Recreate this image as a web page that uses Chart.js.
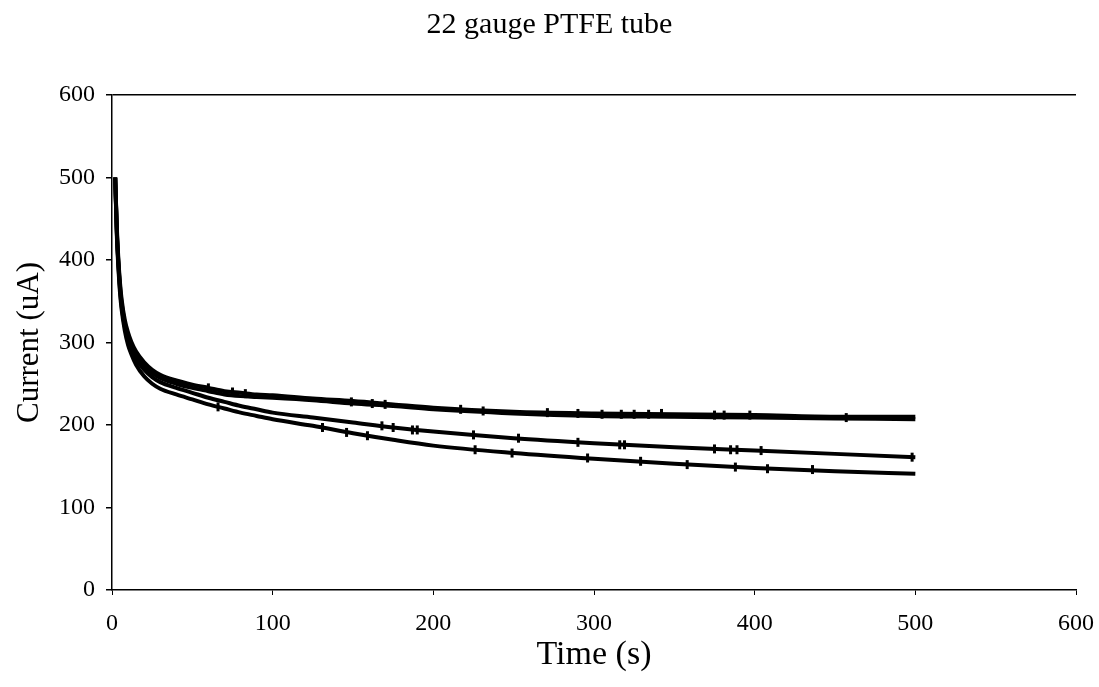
<!DOCTYPE html>
<html>
<head>
<meta charset="utf-8">
<script src="https://cdn.jsdelivr.net/npm/chart.js@4.4.1/dist/chart.umd.min.js"></script>
<style>
  html, body { margin: 0; padding: 0; background: #fff; }
  #wrap { width: 1099px; height: 687px; }
</style>
</head>
<body>
<div id="wrap"><canvas id="currentChart" width="1099" height="687"></canvas></div>
<script>
/* ================================
   Data
================================ */
const times = [2, 3, 4, 5, 6, 8, 10, 12, 15, 20, 25, 30, 40, 50, 60, 70, 80, 90, 100, 125, 150, 175, 200, 250, 300, 350, 400, 450, 500];

const run1 = [500, 440, 400, 372, 352, 327, 312, 301, 289, 276, 267, 261, 254, 249, 245, 241, 239, 237, 236, 232, 229, 225, 221, 216, 214, 213, 212, 210, 210];
const run2 = [500, 436, 396, 368, 348, 323, 308, 297, 285, 272, 263, 257, 250, 245, 241, 237, 235, 234, 233, 230, 226, 223, 219, 214, 211, 210, 209, 208, 207];
const run3 = [500, 434, 394, 364, 344, 319, 303, 292, 280, 267, 258, 252, 245, 239, 233, 228, 223, 219, 215, 209, 203, 197, 192, 184, 178, 173, 169, 165, 161];
const run4 = [500, 430, 390, 360, 340, 314, 297, 286, 273, 259, 250, 244, 237, 231, 225, 220, 215, 211, 207, 199, 190, 182, 175, 166, 159, 153, 148, 144, 141];

// small noise spikes seen on the traces: [time, current]
const spikesTop = [[60, 245], [75, 240], [83, 238], [149, 228], [162, 226], [170, 225], [217, 219], [231, 217], [271, 215], [290, 214], [305, 213], [317, 213], [325, 213], [334, 213], [342, 214], [375, 212], [381, 212], [397, 212], [457, 209]];
const spikesMid = [[168, 199], [175, 197], [187, 194], [190, 194], [225, 188], [253, 184], [290, 179], [316, 176], [319, 176], [375, 171], [385, 170], [389, 170], [404, 169], [498, 161]];
const spikesLow = [[66, 222], [131, 197], [146, 191], [159, 187], [226, 170], [249, 166], [296, 160], [329, 156], [358, 152], [388, 149], [408, 147], [436, 146]];

const xTicks = [0, 100, 200, 300, 400, 500, 600];
const yTicks = [0, 100, 200, 300, 400, 500, 600];

/* ================================
   Helpers
================================ */
const SERIF = "'Liberation Serif', 'Times New Roman', serif";

function toPoints(values) {
  return times.map((t, i) => ({ x: t, y: values[i] }));
}

function lineSet(label, values) {
  return {
    label,
    data: toPoints(values),
    borderColor: "#000",
    borderWidth: 4,
    pointRadius: 0,
    fill: false,
    cubicInterpolationMode: "monotone"
  };
}

function spikeSet(label, pairs) {
  return {
    label,
    data: pairs.map(p => ({ x: p[0], y: p[1] })),
    showLine: false,
    pointStyle: "line",
    rotation: 90,
    pointRadius: 4.5,
    pointBorderWidth: 3,
    pointBorderColor: "#000",
    pointBackgroundColor: "#000"
  };
}

/* ================================
   Render Chart
================================ */
const ctx = document.getElementById("currentChart");

new Chart(ctx, {
  type: "line",
  data: {
    datasets: [
      lineSet("Run 1", run1),
      lineSet("Run 2", run2),
      lineSet("Run 3", run3),
      lineSet("Run 4", run4),
      spikeSet("Noise top", spikesTop),
      spikeSet("Noise mid", spikesMid),
      spikeSet("Noise low", spikesLow)
    ]
  },
  options: {
    responsive: false,
    animation: false,
    layout: { padding: 0 },
    plugins: {
      legend: { display: false },
      tooltip: { enabled: false },
      title: {
        display: true,
        text: "22 gauge PTFE tube",
        color: "#000",
        font: { family: SERIF, size: 30, weight: "normal" },
        padding: { top: 7, bottom: 52 }
      }
    },
    scales: {
      x: {
        type: "linear",
        min: 0,
        max: 600,
        afterBuildTicks: scale => {
          scale.ticks = xTicks.map(v => ({ value: v }));
        },
        afterFit: scale => {
          scale.height = 97;
          // plot ends at x = 1076, the "600" label runs past it
          scale.paddingRight = 23;
        },
        border: { display: true, color: "#000", width: 1.5 },
        grid: {
          color: "transparent",
          tickColor: "#000",
          tickLength: 5,
          drawOnChartArea: false
        },
        ticks: {
          color: "#000",
          padding: 14,
          maxRotation: 0,
          font: { family: SERIF, size: 24 }
        },
        title: {
          display: true,
          text: "Time (s)",
          color: "#000",
          font: { family: SERIF, size: 34 },
          padding: { top: 0, bottom: 12 }
        }
      },
      y: {
        min: 0,
        max: 600,
        afterBuildTicks: scale => {
          scale.ticks = yTicks.map(v => ({ value: v }));
        },
        afterFit: scale => { scale.width = 112; },
        border: { display: true, color: "#000", width: 1.5 },
        grid: {
          // only the 600 line is drawn, as the top frame
          color: c => (c.tick && c.tick.value === 600 ? "#000" : "transparent"),
          lineWidth: 1.5,
          tickColor: "#000",
          tickLength: 6
        },
        ticks: {
          color: "#000",
          padding: 11,
          font: { family: SERIF, size: 24 }
        },
        title: {
          display: true,
          text: "Current (uA)",
          color: "#000",
          font: { family: SERIF, size: 31 },
          padding: { top: 11, bottom: 0 }
        }
      }
    }
  }
});
</script>
</body>
</html>
